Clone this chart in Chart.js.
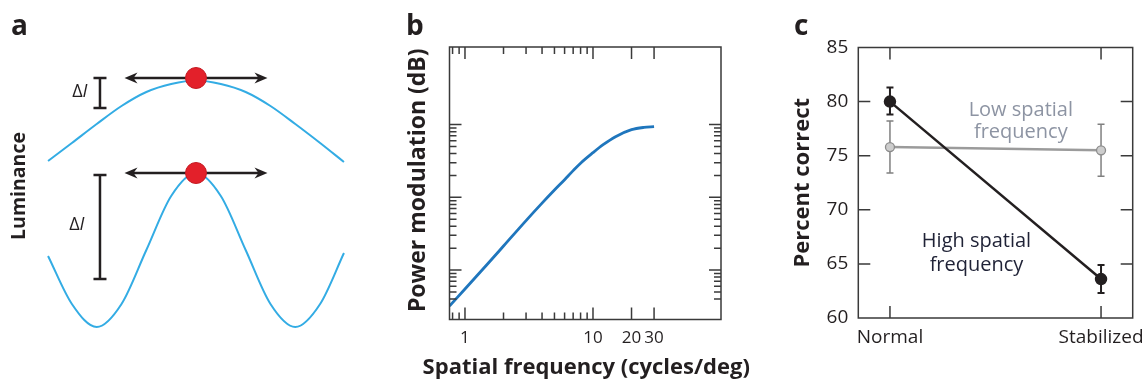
<!DOCTYPE html>
<html>
<head>
<meta charset="utf-8">
<script src="https://cdn.jsdelivr.net/npm/chart.js@4.4.1/dist/chart.umd.min.js"></script>
<style>
  html, body { margin: 0; padding: 0; background: #fff; }
  #fig { position: relative; width: 1147px; height: 385px; overflow: hidden; }
  #fig canvas { position: absolute; top: 0; }
</style>
</head>
<body>
<div id="fig">
  <canvas id="chartA" width="380" height="385" style="left:0"></canvas>
  <canvas id="chartB" width="380" height="385" style="left:380px"></canvas>
  <canvas id="chartC" width="377" height="385" style="left:770px"></canvas>
</div>
<script>
// panel a: luminance profile of a low and a high spatial frequency grating
const positions = [-1.49, -1.25, -1.0, -0.75, -0.5, -0.25, 0, 0.25, 0.5, 0.75, 1.0, 1.25, 1.49];
const lowFreqLum = [17.9, 19.7, 21.6, 23.4, 24.8, 25.6, 25.95, 25.6, 24.8, 23.4, 21.6, 19.7, 17.8];
const highFreqLum = [8.4, 3.6, 1.3, 3.6, 9.0, 14.4, 16.7, 14.4, 9.0, 3.6, 1.3, 3.6, 8.7];
const dotLum = [26.2, 16.7];
const arrowSpan = [-0.72, 0.72];
const deltaTop = [26.2, 16.5];
const deltaBottom = [23.2, 6.1];

// panel b: power modulation vs spatial frequency
const freqs = [0.757, 1, 1.5, 2, 3, 4, 5, 6, 7, 8, 10, 12, 15, 20, 25, 30];
const powerMod = [0.32, 0.548, 1.21, 2.14, 4.79, 8.32, 12.6, 17.5, 23.3, 29.5, 41.1, 52.9, 68.2, 85.1, 91.5, 93.6];
const freqTicks = [0.8, 0.9, 1, 2, 3, 4, 5, 6, 7, 8, 9, 10, 20, 30];
const freqLabels = [1, 10, 20, 30];
const powerTicks = [0.4, 0.5, 0.6, 0.7, 0.8, 0.9, 1, 2, 3, 4, 5, 6, 7, 8, 9, 10, 20, 30, 40, 50, 60, 70, 80, 90, 100];
const powerMajors = [1, 10, 100];

// panel c: percent correct, normal vs stabilized viewing
const conditions = ["Normal", "Stabilized"];
const highMean = [80.0, 63.6];
const highUpper = [81.3, 64.9];
const highLower = [78.8, 62.3];
const lowMean = [75.8, 75.5];
const lowUpper = [78.2, 77.9];
const lowLower = [73.4, 73.1];
const percentTicks = [60, 65, 70, 75, 80, 85];

const INK = "#231f20";
const FONT = "'Open Sans', sans-serif";
Chart.defaults.font.family = FONT;
Chart.defaults.color = INK;

const baseOptions = {
  responsive: false,
  animation: false,
  events: [],
  plugins: { legend: { display: false }, tooltip: { enabled: false } },
};

function letter(text, x, y) {
  return {
    id: "letter_" + text,
    afterDraw(chart) {
      const ctx = chart.ctx;
      ctx.save();
      ctx.font = "bold 28px " + FONT;
      ctx.fillStyle = INK;
      ctx.textBaseline = "alphabetic";
      ctx.fillText(text, x, y);
      ctx.restore();
    },
  };
}

// box round the plot with ticks pointing inward on all four sides
function frame(long, short, majors) {
  return {
    id: "frame",
    afterDatasetsDraw(chart) {
      const { ctx, chartArea: a } = chart;
      ctx.save();
      ctx.strokeStyle = "#3a3a3a";
      ctx.lineWidth = 1.5;
      ctx.beginPath();
      for (const id of ["x", "y"]) {
        const scale = chart.scales[id];
        for (const t of scale.ticks) {
          const p = scale.getPixelForValue(t.value);
          const len = majors[id] && !majors[id].includes(t.value) ? short : long;
          if (scale.isHorizontal()) {
            ctx.moveTo(p, a.bottom); ctx.lineTo(p, a.bottom - len);
            ctx.moveTo(p, a.top); ctx.lineTo(p, a.top + len);
          } else {
            ctx.moveTo(a.left, p); ctx.lineTo(a.left + len, p);
            ctx.moveTo(a.right, p); ctx.lineTo(a.right - len, p);
          }
        }
      }
      ctx.rect(a.left, a.top, a.width, a.height);
      ctx.stroke();
      ctx.restore();
    },
  };
}

function arrowHead(ctx, tipX, y, dir) {
  ctx.beginPath();
  ctx.moveTo(tipX, y);
  ctx.lineTo(tipX + dir * 13, y - 5.5);
  ctx.lineTo(tipX + dir * 9, y);
  ctx.lineTo(tipX + dir * 13, y + 5.5);
  ctx.closePath();
  ctx.fill();
}

const panelA = {
  id: "panelA",
  beforeDatasetsDraw(chart) {
    const { ctx, scales: { x, y } } = chart;
    ctx.save();
    ctx.strokeStyle = INK;
    ctx.fillStyle = INK;
    ctx.lineWidth = 2.5;
    dotLum.forEach((v) => {
      const py = y.getPixelForValue(v);
      const x1 = x.getPixelForValue(arrowSpan[0]);
      const x2 = x.getPixelForValue(arrowSpan[1]);
      ctx.beginPath();
      ctx.moveTo(x1 + 8, py);
      ctx.lineTo(x2 - 8, py);
      ctx.stroke();
      arrowHead(ctx, x1, py, 1);
      arrowHead(ctx, x2, py, -1);
    });
    const barX = x.getPixelForValue(-0.967);
    deltaTop.forEach((t, i) => {
      const y1 = y.getPixelForValue(t);
      const y2 = y.getPixelForValue(deltaBottom[i]);
      ctx.beginPath();
      ctx.moveTo(barX, y1); ctx.lineTo(barX, y2);
      ctx.moveTo(barX - 6.5, y1); ctx.lineTo(barX + 6.5, y1);
      ctx.moveTo(barX - 6.5, y2); ctx.lineTo(barX + 6.5, y2);
      ctx.stroke();
    });
    // ΔI labels, upright delta and italic I
    [[-1.17, 24.8], [-1.2, 11.5]].forEach(([lx, ly]) => {
      const cx = x.getPixelForValue(lx);
      const cy = y.getPixelForValue(ly);
      ctx.textBaseline = "middle";
      ctx.font = "18px " + FONT;
      const wd = ctx.measureText("Δ").width;
      ctx.font = "italic 18px " + FONT;
      const wi = ctx.measureText("I").width;
      const left = cx - (wd + wi) / 2;
      ctx.font = "18px " + FONT;
      ctx.fillText("Δ", left, cy);
      ctx.font = "italic 18px " + FONT;
      ctx.fillText("I", left + wd, cy);
    });
    ctx.restore();
  },
};

new Chart(document.getElementById("chartA"), {
  type: "line",
  data: {
    datasets: [
      {
        data: dotLum.map((v) => ({ x: 0, y: v })),
        showLine: false,
        pointRadius: 10.5,
        pointBackgroundColor: "#e3202a",
        pointBorderColor: "#c41a22",
        pointBorderWidth: 1,
        order: 0,
      },
      {
        data: positions.map((p, i) => ({ x: p, y: lowFreqLum[i] })),
        borderColor: "#33ace4",
        borderWidth: 2,
        pointRadius: 0,
        cubicInterpolationMode: "monotone",
        order: 1,
      },
      {
        data: positions.map((p, i) => ({ x: p, y: highFreqLum[i] })),
        borderColor: "#33ace4",
        borderWidth: 2,
        pointRadius: 0,
        cubicInterpolationMode: "monotone",
        order: 2,
      },
    ],
  },
  options: {
    ...baseOptions,
    layout: { autoPadding: false, padding: { bottom: 13 } },
    scales: {
      x: { type: "linear", display: false, min: -1.571, max: 1.853 },
      y: {
        type: "linear", min: -3.2, max: 34,
        grid: { display: false }, border: { display: false }, ticks: { display: false },
        title: { display: true, text: "Luminance", color: INK, font: { size: 19.5, weight: "bold" }, padding: { top: 8 } },
        afterFit: (s) => { s.width = 40; s.paddingTop = 0; s.paddingBottom = 0; },
      },
    },
  },
  plugins: [panelA, letter("a", 11, 35)],
});

// axis titles of panel b, drawn by hand so the wide x title is not squeezed to the plot width
const titlesB = {
  id: "titlesB",
  afterDraw(chart) {
    const { ctx, chartArea: a } = chart;
    ctx.save();
    ctx.fillStyle = INK;
    ctx.textAlign = "center";
    ctx.textBaseline = "middle";
    ctx.font = "bold 22px " + FONT;
    ctx.fillText("Spatial frequency (cycles/deg)", (a.left + a.right) / 2 + 1, 368);
    ctx.font = "bold 23px " + FONT;
    ctx.translate(38.5, (a.top + a.bottom) / 2 - 3);
    ctx.rotate(-Math.PI / 2);
    ctx.fillText("Power modulation (dB)", 0, 0);
    ctx.restore();
  },
};

new Chart(document.getElementById("chartB"), {
  type: "line",
  data: {
    datasets: [{
      data: freqs.map((f, i) => ({ x: f, y: powerMod[i] })),
      borderColor: "#1f76bd",
      borderWidth: 2.8,
      pointRadius: 0,
      cubicInterpolationMode: "monotone",
    }],
  },
  options: {
    ...baseOptions,
    layout: { autoPadding: false, padding: { top: 47, right: 39 } },
    scales: {
      x: {
        type: "logarithmic", min: 0.757, max: 100,
        grid: { display: false, drawTicks: false }, border: { display: false },
        afterBuildTicks: (s) => { s.ticks = freqTicks.map((v) => ({ value: v })); },
        ticks: {
          autoSkip: false, maxRotation: 0, padding: 8, color: INK, font: { size: 17 },
          callback: (v) => (freqLabels.includes(v) ? String(v) : ""),
        },
        afterFit: (s) => { s.height = 65.5; s.paddingLeft = 0; s.paddingRight = 0; },
      },
      y: {
        type: "logarithmic", min: 0.209, max: 1167,
        grid: { display: false, drawTicks: false }, border: { display: false }, ticks: { display: false },
        afterBuildTicks: (s) => { s.ticks = powerTicks.map((v) => ({ value: v })); },
        afterFit: (s) => { s.width = 69.5; s.paddingTop = 0; s.paddingBottom = 0; },
      },
    },
  },
  plugins: [frame(12, 7, { x: freqLabels, y: powerMajors }), titlesB, letter("b", 26, 35)],
});

const errorBars = {
  id: "errorBars",
  beforeDatasetsDraw(chart) {
    const { ctx, scales: { x, y } } = chart;
    const sets = [
      { upper: lowUpper, lower: lowLower, color: "#808080", width: 1.5 },
      { upper: highUpper, lower: highLower, color: INK, width: 2 },
    ];
    ctx.save();
    sets.forEach((s) => {
      ctx.strokeStyle = s.color;
      ctx.lineWidth = s.width;
      ctx.beginPath();
      s.upper.forEach((u, i) => {
        const px = x.getPixelForValue(i);
        const y1 = y.getPixelForValue(u);
        const y2 = y.getPixelForValue(s.lower[i]);
        ctx.moveTo(px, y1); ctx.lineTo(px, y2);
        ctx.moveTo(px - 3.5, y1); ctx.lineTo(px + 3.5, y1);
        ctx.moveTo(px - 3.5, y2); ctx.lineTo(px + 3.5, y2);
      });
      ctx.stroke();
    });
    ctx.restore();
  },
};

const seriesNotes = {
  id: "seriesNotes",
  afterDatasetsDraw(chart) {
    const { ctx, scales: { x, y } } = chart;
    const notes = [
      { lines: ["Low spatial", "frequency"], x: 0.62, y: [79.2, 77.2], color: "#8d94a3" },
      { lines: ["High spatial", "frequency"], x: 0.41, y: [67.1, 64.85], color: "#1f2236" },
    ];
    ctx.save();
    ctx.font = "20px " + FONT;
    ctx.textAlign = "center";
    ctx.textBaseline = "middle";
    notes.forEach((n) => {
      ctx.fillStyle = n.color;
      n.lines.forEach((t, i) => ctx.fillText(t, x.getPixelForValue(n.x), y.getPixelForValue(n.y[i])));
    });
    ctx.restore();
  },
};

new Chart(document.getElementById("chartC"), {
  type: "line",
  data: {
    datasets: [
      {
        data: highMean.map((v, i) => ({ x: i, y: v })),
        borderColor: INK, borderWidth: 2.5,
        pointRadius: 5, pointBackgroundColor: INK, pointBorderColor: INK,
        order: 0,
      },
      {
        data: lowMean.map((v, i) => ({ x: i, y: v })),
        borderColor: "#9b9b9b", borderWidth: 2.5,
        pointRadius: 4.5, pointBackgroundColor: "#cdcdcd", pointBorderColor: "#8c8c8c", pointBorderWidth: 1.3,
        order: 1,
      },
    ],
  },
  options: {
    ...baseOptions,
    layout: { autoPadding: false, padding: { top: 47.5, right: 14.3 } },
    scales: {
      x: {
        type: "linear", min: -0.15, max: 1.15,
        grid: { display: false, drawTicks: false }, border: { display: false },
        afterBuildTicks: (s) => { s.ticks = conditions.map((c, i) => ({ value: i })); },
        ticks: { autoSkip: false, maxRotation: 0, padding: 8, color: INK, font: { size: 19 }, callback: (v) => conditions[v] },
        afterFit: (s) => { s.height = 67; s.paddingLeft = 0; s.paddingRight = 0; },
      },
      y: {
        type: "linear", min: 60, max: 85,
        grid: { display: false, drawTicks: false }, border: { display: false },
        afterBuildTicks: (s) => { s.ticks = percentTicks.map((v) => ({ value: v })); },
        ticks: { padding: 10, color: INK, font: { size: 19 } },
        title: { display: true, text: "Percent correct", color: INK, font: { size: 22, weight: "bold" }, padding: { top: 20 } },
        afterFit: (s) => { s.width = 88.3; s.paddingTop = 0; s.paddingBottom = 0; },
      },
    },
  },
  plugins: [errorBars, seriesNotes, frame(12, 12, {}), letter("c", 24, 35)],
});
</script>
</body>
</html>
